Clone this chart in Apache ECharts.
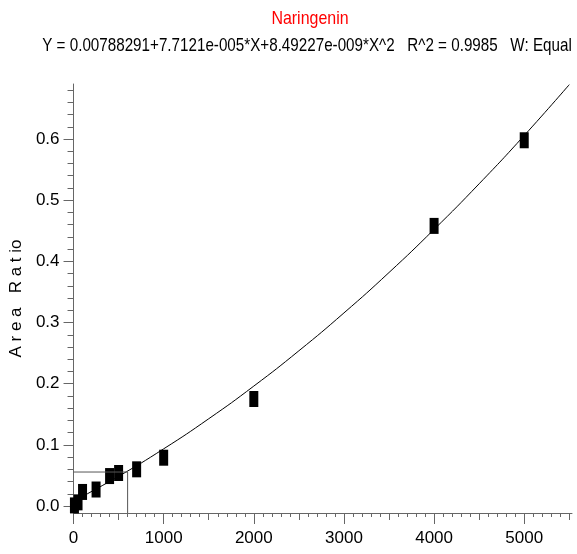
<!DOCTYPE html>
<html>
<head>
<meta charset="utf-8">
<script src="https://cdn.jsdelivr.net/npm/echarts@6/dist/echarts.min.js"></script>
<style>
html,body{margin:0;padding:0;background:#fff;}
#c{width:577px;height:554px;}
</style>
</head>
<body>
<div id="c"></div>
<script>
const titleText = "Naringenin";
const subtitleText = "Y = 0.00788291+7.7121e-005*X+8.49227e-009*X^2   R^2 = 0.9985   W: Equal";
const yName = "A r e a   R a t io";

// calibration standards (concentration, area ratio)
const stdX = [10, 50, 100, 250, 400, 500, 700, 1000, 2000, 4000, 5000];
const stdY = [0.001, 0.006, 0.023, 0.027, 0.049, 0.054, 0.060, 0.079, 0.175, 0.458, 0.598];

// fitted curve
const curveX = [0, 500, 1000, 1500, 2000, 2500, 3000, 3500, 4000, 4500, 5000, 5500];
const curveY = [0.0079, 0.0486, 0.0935, 0.1427, 0.1961, 0.2538, 0.3157, 0.3818, 0.4523, 0.5269, 0.6058, 0.6890];

// sample cursor
const cursorX = 600;
const cursorY = 0.0556;

// ticks
const xMajor = [0, 1000, 2000, 3000, 4000, 5000];
const xMid = [500, 1500, 2500, 3500, 4500, 5500];
const xMinor = [];
for (let v = 100; v <= 5500; v += 100) xMinor.push(v);
const yMajor = [0, 0.1, 0.2, 0.3, 0.4, 0.5, 0.6];
const yMinor = [0.02, 0.04, 0.06, 0.08, 0.12, 0.14, 0.16, 0.18, 0.22, 0.24, 0.26, 0.28,
  0.32, 0.34, 0.36, 0.38, 0.42, 0.44, 0.46, 0.48, 0.52, 0.54, 0.56, 0.58, 0.62, 0.64, 0.66, 0.68];

const X_MIN = 0, X_MAX = 5530, Y_MIN = -0.0114, Y_MAX = 0.69;
const FONT = "'Liberation Sans', Arial, sans-serif";
const AX = '#666';

const chart = echarts.init(document.getElementById('c'), null, {renderer: 'canvas'});

function xAx(ticks, len, showLine, showLabel) {
  return {
    type: 'value', min: X_MIN, max: X_MAX, position: 'bottom',
    splitLine: {show: false},
    axisLine: {show: showLine, onZero: false, lineStyle: {color: AX, width: 1}},
    axisTick: {show: true, customValues: ticks, length: len, lineStyle: {color: AX}},
    axisLabel: {show: showLabel, customValues: ticks, margin: 17, color: '#000', fontSize: 17, fontFamily: FONT,
      formatter: v => String(v)},
  };
}
function yAx(ticks, len, showLine, showLabel, name) {
  return {
    type: 'value', min: Y_MIN, max: Y_MAX, position: 'left',
    name: name || '', nameLocation: 'middle', nameGap: 47,
    nameTextStyle: {color: '#000', fontSize: 17, fontFamily: FONT},
    splitLine: {show: false},
    axisLine: {show: showLine, onZero: false, lineStyle: {color: AX, width: 1}},
    axisTick: {show: true, customValues: ticks, length: len, lineStyle: {color: AX}},
    axisLabel: {show: showLabel, customValues: ticks, margin: 14, color: '#000', fontSize: 17, fontFamily: FONT,
      formatter: v => v.toFixed(1)},
  };
}

chart.setOption({
  animation: false,
  backgroundColor: '#fff',
  graphic: [
    {type: 'text', x: 310, y: 19, scaleX: 0.84,
     style: {text: titleText, fill: '#ff0000', font: '19px ' + FONT, textAlign: 'center', textVerticalAlign: 'middle'}},
    {type: 'text', x: 307, y: 46, scaleX: 0.8,
     style: {text: subtitleText, fill: '#000', font: '19px ' + FONT, textAlign: 'center', textVerticalAlign: 'middle'}}
  ],
  grid: {left: 71, top: 84, width: 501, height: 429},
  xAxis: [xAx(xMinor, 4, false, false), xAx(xMid, 7, false, false), xAx(xMajor, 11, true, true)],
  yAxis: [yAx(yMinor, 6, false, false), yAx(yMajor, 10, true, true, yName)],
  series: [
    {
      type: 'line', xAxisIndex: 2, yAxisIndex: 1, smooth: true, showSymbol: false,
      lineStyle: {color: '#000', width: 1}, clip: false,
      data: curveX.map((x, i) => [x, curveY[i]])
    },
    {
      type: 'line', xAxisIndex: 2, yAxisIndex: 1, showSymbol: false,
      lineStyle: {color: '#555', width: 1},
      data: [[X_MIN, cursorY], [cursorX, cursorY], [cursorX, Y_MIN]]
    },
    {
      type: 'scatter', xAxisIndex: 2, yAxisIndex: 1, symbol: 'rect', symbolSize: [9, 16],
      itemStyle: {color: '#000', opacity: 1}, clip: false,
      data: stdX.map((x, i) => [x, stdY[i]])
    }
  ]
});
</script>
</body>
</html>
